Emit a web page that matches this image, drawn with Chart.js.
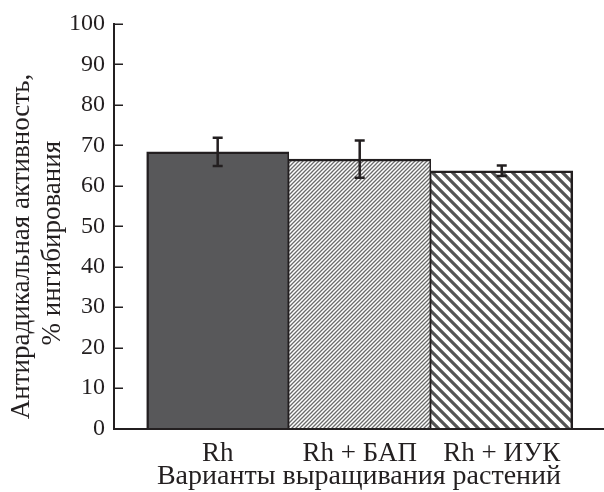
<!DOCTYPE html>
<html>
<head>
<meta charset="utf-8">
<script src="https://cdn.jsdelivr.net/npm/chart.js@4/dist/chart.umd.min.js"></script>
<style>
html,body{margin:0;padding:0;background:#fff;}
#wrap{width:604px;height:492px;position:relative;}
</style>
</head>
<body>
<div id="wrap"><canvas id="c" width="604" height="492"></canvas></div>
<script>
const categories = ['Rh', 'Rh + БАП', 'Rh + ИУК'];
const values = [68.4, 66.6, 63.7];
const errors = [3.5, 4.6, 1.3];
const yTickValues = [0, 10, 20, 30, 40, 50, 60, 70, 80, 90, 100];
const yTitle = ['Антирадикальная активность,      ', '% ингибирования     '];
const xTitle = 'Варианты выращивания растений';

const INK = '#231f20';
const FONT = "'Liberation Serif', 'Times New Roman', serif";

function hatch(size, lw, color, dir) {
  const c = document.createElement('canvas');
  c.width = size; c.height = size;
  const g = c.getContext('2d');
  g.fillStyle = '#fff'; g.fillRect(0, 0, size, size);
  g.strokeStyle = color; g.lineWidth = lw; g.lineCap = 'square';
  g.beginPath();
  if (dir === '/') {
    g.moveTo(-size, size); g.lineTo(size, -size);
    g.moveTo(0, size * 2); g.lineTo(size * 2, 0);
    g.moveTo(0, size); g.lineTo(size, 0);
  } else {
    g.moveTo(0, 0); g.lineTo(size, size);
    g.moveTo(-size, 0); g.lineTo(size, size * 2);
    g.moveTo(0, -size); g.lineTo(size * 2, size);
  }
  g.stroke();
  return g.createPattern(c, 'repeat');
}

const ctx = document.getElementById('c').getContext('2d');
const fills = ['#58585a', hatch(4, 1.3, '#6a6a6a', '/'), hatch(10, 3.2, '#555555', '\\')];

const errorBars = {
  id: 'errorBars',
  afterDatasetsDraw(chart) {
    const xs = chart.scales.x, ys = chart.scales.y, g = chart.ctx;
    g.save();
    g.strokeStyle = INK; g.lineWidth = 2.5;
    values.forEach((v, i) => {
      const x = xs.getPixelForValue(i + 1);
      const t = ys.getPixelForValue(v + errors[i]);
      const b = ys.getPixelForValue(v - errors[i]);
      g.beginPath();
      g.moveTo(x, t); g.lineTo(x, b);
      g.moveTo(x - 5, t); g.lineTo(x + 5, t);
      g.moveTo(x - 5, b); g.lineTo(x + 5, b);
      g.stroke();
    });
    g.restore();
  }
};

const inwardTicks = {
  id: 'inwardTicks',
  afterDraw(chart) {
    const ys = chart.scales.y, g = chart.ctx, left = chart.chartArea.left;
    g.save();
    g.strokeStyle = INK; g.lineWidth = 1.5;
    ys.ticks.forEach((t, i) => {
      const y = Math.round(ys.getPixelForTick(i)) + 0.25;
      if (i === 0) return;
      g.beginPath(); g.moveTo(left, y); g.lineTo(left + 9, y); g.stroke();
    });
    g.restore();
  }
};

new Chart(ctx, {
  type: 'bar',
  data: {
    datasets: [{
      data: values.map((v, i) => ({ x: i + 1, y: v })),
      backgroundColor: fills,
      borderColor: INK,
      borderWidth: [
        { top: 2.5, left: 2.5, right: 1.5, bottom: 0 },
        { top: 2.5, left: 1, right: 1.5, bottom: 0 },
        { top: 2.5, left: 1, right: 2.5, bottom: 0 }
      ],
      borderSkipped: false,
      barPercentage: 1,
      categoryPercentage: 1
    }]
  },
  options: {
    responsive: false,
    animation: false,
    events: [],
    layout: { padding: { top: 24, right: 0, left: 0, bottom: 0 } },
    plugins: { legend: { display: false }, tooltip: { enabled: false } },
    scales: {
      x: {
        type: 'linear',
        offset: false,
        min: 0.27,
        max: 3.72,
        afterBuildTicks(s) { s.ticks = categories.map((c, i) => ({ value: i + 1 })); },
        afterFit(s) { s.height = 63.5; },
        grid: { display: true, drawOnChartArea: false, drawTicks: false, offset: false },
        border: { display: true, color: INK, width: 2 },
        ticks: {
          color: INK,
          padding: 9,
          font: { family: FONT, size: 27 },
          callback: (v) => categories[Math.round(v) - 1] || ''
        },
        title: {
          display: true, text: xTitle, color: INK,
          font: { family: FONT, size: 28, lineHeight: 1.0 },
          padding: { top: 0, bottom: 1 }
        }
      },
      y: {
        min: 0, max: 100,
        afterBuildTicks(s) { s.ticks = yTickValues.map(v => ({ value: v })); },
        afterFit(s) { s.width = 114; },
        grid: { display: true, drawOnChartArea: false, drawTicks: false },
        border: { display: true, color: INK, width: 2 },
        ticks: {
          color: INK, padding: 9,
          font: { family: FONT, size: 24 }
        },
        title: {
          display: true, text: yTitle, color: INK,
          font: { family: FONT, size: 27, lineHeight: 1.15 },
          padding: { top: 6, bottom: 0 }
        }
      }
    }
  },
  plugins: [errorBars, inwardTicks]
});
</script>
</body>
</html>
